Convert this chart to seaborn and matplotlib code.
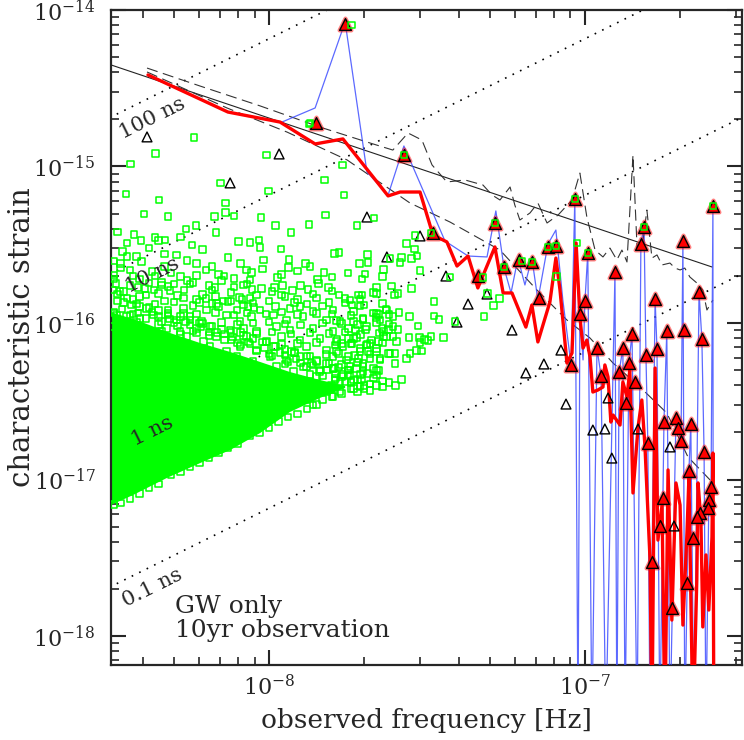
import numpy as np
import matplotlib
matplotlib.use("Agg")
import matplotlib.pyplot as plt
import matplotlib.ticker as ticker
import seaborn as sns

# ------------------------------------------------------------------
# values, stored as (log10 f [Hz], log10 h_c)
# ------------------------------------------------------------------

# timing residual reference lines (ns) and their labels
residuals_ns = [100, 10, 1, 0.1]
residual_labels = ["100 ns", "10 ns", "1 ns", "0.1 ns"]
res_norm = 6.55   # h_c = res_norm * f * residual

# power law sensitivity line (solid)
sens_logf = [-8.5, -6.598]
sens_logh = [-14.351, -15.642]

# upper dashed curve
dash_up = [(-8.386, -14.371), (-8.218, -14.486), (-8.028, -14.613), (-7.839, -14.748),
           (-7.680, -14.850), (-7.608, -14.895), (-7.560, -14.786), (-7.516, -14.831),
           (-7.484, -14.990), (-7.437, -15.099), (-7.380, -15.086), (-7.323, -15.118),
           (-7.294, -15.182), (-7.269, -15.214), (-7.237, -15.131), (-7.222, -15.246),
           (-7.206, -15.342), (-7.174, -15.297), (-7.149, -15.233), (-7.120, -15.361),
           (-7.085, -15.310), (-7.041, -15.214), (-7.016, -15.042), (-6.994, -15.323),
           (-6.968, -15.534), (-6.943, -15.578), (-6.921, -15.521), (-6.899, -15.597),
           (-6.883, -15.534), (-6.867, -15.610), (-6.848, -14.927), (-6.835, -15.521),
           (-6.820, -15.534), (-6.804, -15.278), (-6.788, -15.585), (-6.772, -15.565),
           (-6.756, -15.629), (-6.731, -15.617), (-6.715, -15.649), (-6.699, -15.661),
           (-6.684, -15.649), (-6.668, -15.706), (-6.646, -15.744), (-6.627, -15.789),
           (-6.614, -15.917), (-6.595, -15.853)]

# lower dashed curve
dash_low = [(-8.386, -14.396), (-8.133, -14.626), (-7.943, -14.780), (-7.753, -14.958),
            (-7.554, -15.233), (-7.427, -15.355), (-7.269, -15.534), (-7.152, -15.789),
            (-7.057, -15.981), (-6.984, -16.096), (-6.911, -16.256), (-6.826, -16.409),
            (-6.741, -16.575), (-6.674, -16.856), (-6.604, -17.003)]

# red thick curve (-18.6 = drops below the plot)
red_curve = [(-8.383, -14.415), (-8.130, -14.652), (-7.965, -14.716), (-7.854, -14.856),
             (-7.766, -14.824), (-7.623, -15.188), (-7.585, -15.163), (-7.522, -15.163),
             (-7.481, -15.438), (-7.437, -15.482), (-7.405, -15.636), (-7.370, -15.572),
             (-7.339, -15.776), (-7.285, -15.514), (-7.259, -15.808), (-7.231, -15.808),
             (-7.187, -16.026), (-7.168, -15.885), (-7.149, -16.121), (-7.111, -15.866),
             (-7.092, -15.585), (-7.079, -15.789), (-7.057, -16.256), (-7.041, -16.192),
             (-7.028, -15.489), (-7.016, -15.962), (-7.006, -16.160), (-6.994, -16.109),
             (-6.984, -16.217), (-6.975, -16.441), (-6.959, -16.428), (-6.943, -16.409),
             (-6.937, -16.268), (-6.927, -16.345), (-6.918, -16.633), (-6.911, -16.588),
             (-6.889, -16.652), (-6.880, -16.377), (-6.867, -16.473), (-6.858, -16.300),
             (-6.848, -17.086), (-6.832, -16.665), (-6.820, -16.492), (-6.810, -16.792),
             (-6.794, -17.514), (-6.788, -18.6), (-6.778, -16.288), (-6.769, -17.387),
             (-6.756, -17.163), (-6.747, -18.6), (-6.737, -16.939), (-6.725, -17.898),
             (-6.712, -17.022), (-6.699, -17.163), (-6.690, -17.930), (-6.677, -17.335),
             (-6.671, -16.990), (-6.658, -18.6), (-6.646, -17.642), (-6.642, -17.022),
             (-6.633, -17.259), (-6.627, -17.942), (-6.617, -17.482), (-6.608, -17.834),
             (-6.598, -17.367), (-6.595, -16.831), (-6.592, -18.6)]

# thin blue curve
blue_curve = [(-7.959, -14.716), (-7.854, -14.626), (-7.759, -14.077), (-7.690, -15.035),
              (-7.623, -15.182), (-7.573, -14.869), (-7.443, -15.476), (-7.370, -15.572),
              (-7.310, -15.578), (-7.282, -15.284), (-7.256, -15.649), (-7.234, -15.808),
              (-7.212, -15.585), (-7.190, -15.757), (-7.168, -15.585), (-7.149, -15.853),
              (-7.117, -15.495), (-7.092, -15.406), (-7.070, -15.853), (-7.044, -16.268),
              (-7.032, -15.195), (-7.022, -18.6), (-7.016, -15.942), (-7.006, -16.236),
              (-7.000, -15.859), (-6.991, -15.553), (-6.978, -18.6), (-6.962, -16.160),
              (-6.949, -16.339), (-6.934, -18.6), (-6.905, -15.674), (-6.899, -18.6),
              (-6.892, -16.313), (-6.880, -16.160), (-6.873, -18.6), (-6.861, -16.256),
              (-6.851, -16.070), (-6.835, -18.6), (-6.823, -15.495), (-6.813, -15.387),
              (-6.807, -16.204), (-6.801, -16.767), (-6.794, -18.6), (-6.778, -15.847),
              (-6.772, -16.166), (-6.763, -18.6), (-6.750, -16.633), (-6.741, -16.051),
              (-6.731, -18.6), (-6.712, -16.607), (-6.706, -16.671), (-6.696, -16.754),
              (-6.690, -15.476), (-6.684, -18.6), (-6.671, -16.946), (-6.665, -16.645),
              (-6.655, -18.6), (-6.639, -15.802), (-6.630, -16.102), (-6.623, -16.824),
              (-6.617, -18.6), (-6.608, -17.131), (-6.601, -17.048), (-6.595, -15.252),
              (-6.594, -18.6)]

# resolvable sources (red triangles)
red_tri = [(-7.851, -14.722), (-7.759, -14.089), (-7.573, -14.927), (-7.481, -15.425),
           (-7.339, -15.700), (-7.285, -15.361), (-7.256, -15.642), (-7.209, -15.597),
           (-7.168, -15.610), (-7.146, -15.840), (-7.117, -15.514), (-7.092, -15.508),
           (-7.032, -15.208), (-6.991, -15.553), (-7.000, -15.859), (-7.016, -15.942),
           (-6.905, -15.674), (-6.813, -15.387), (-6.823, -15.495), (-6.690, -15.476),
           (-6.595, -15.252), (-6.778, -15.847), (-6.639, -15.802), (-6.851, -16.070),
           (-6.741, -16.051), (-6.687, -16.045), (-6.630, -16.102), (-6.962, -16.160),
           (-6.880, -16.160), (-6.807, -16.204), (-6.772, -16.166), (-7.044, -16.268),
           (-6.949, -16.339), (-6.892, -16.313), (-6.861, -16.256), (-6.842, -16.377),
           (-6.870, -16.511), (-6.750, -16.633), (-6.712, -16.607), (-6.706, -16.671),
           (-6.665, -16.645), (-6.801, -16.767), (-6.696, -16.754), (-6.623, -16.824),
           (-6.671, -16.946), (-6.601, -17.048), (-6.608, -17.131), (-6.611, -17.182),
           (-6.753, -17.118), (-6.636, -17.214), (-6.646, -17.240), (-6.763, -17.297),
           (-6.658, -17.374), (-6.788, -17.527), (-6.677, -17.661), (-6.725, -17.821)]

# other sources (open triangles)
open_tri = [(-8.386, -14.811), (-8.123, -15.105), (-7.968, -14.920), (-7.690, -15.323),
            (-7.522, -15.444), (-7.627, -15.578), (-7.440, -15.700), (-7.310, -15.815),
            (-7.370, -15.879), (-7.405, -15.994), (-7.231, -16.045), (-7.076, -16.173),
            (-7.130, -16.262), (-7.187, -16.319), (-7.060, -16.518), (-6.975, -16.684),
            (-6.937, -16.677), (-6.927, -16.479), (-6.915, -16.863), (-6.832, -16.677),
            (-6.731, -16.792), (-6.718, -17.297)]

# GW-only binaries (green squares): sparse upper part
green_upper = [(-8.237, -14.814), (-8.359, -14.916), (-8.438, -14.984), (-8.008, -14.926),
               (-8.154, -15.107), (-8.453, -15.176), (-8.348, -15.214), (-8.001, -15.156),
               (-7.873, -14.728), (-7.768, -14.990), (-7.825, -15.086), (-7.762, -15.182),
               (-8.137, -15.232), (-8.137, -15.295), (-8.173, -15.321), (-8.110, -15.315),
               (-8.026, -15.327), (-7.980, -15.376), (-7.873, -15.370), (-7.821, -15.310),
               (-7.722, -15.378), (-7.667, -15.329), (-7.739, -14.096), (-7.565, -15.491),
               (-7.538, -15.440), (-7.540, -15.527), (-7.870, -14.722)]

# squares among / inside the triangles
green_right = [(-7.531, -15.572), (-7.549, -15.587), (-7.580, -15.581), (-7.586, -15.615),
               (-7.617, -15.587), (-7.638, -15.657), (-7.641, -15.704), (-7.522, -15.664),
               (-7.612, -15.764), (-7.549, -15.779), (-7.591, -15.811), (-7.602, -15.821),
               (-7.630, -15.913), (-7.589, -15.932), (-7.556, -15.960), (-7.477, -15.864),
               (-7.478, -15.955), (-7.462, -15.977), (-7.528, -16.019), (-7.412, -15.992),
               (-7.322, -15.708), (-7.309, -15.811), (-7.290, -15.889), (-7.271, -15.843),
               (-7.319, -15.960), (-7.090, -15.704), (-7.573, -14.927), (-7.487, -15.425),
               (-7.285, -15.361), (-7.256, -15.642), (-7.199, -15.604), (-7.168, -15.610),
               (-7.117, -15.514), (-7.092, -15.508), (-7.032, -15.208), (-6.991, -15.553),
               (-6.813, -15.387), (-6.595, -15.252), (-7.025, -15.489), (-7.427, -15.706)]

green_mid = [(-7.689, -15.561), (-7.686, -15.614), (-7.779, -15.551), (-7.793, -15.555),
             (-7.696, -15.687), (-7.705, -15.719), (-7.670, -15.804), (-7.659, -15.772),
             (-7.705, -15.821), (-7.712, -15.847), (-7.744, -15.853), (-7.779, -15.821),
             (-7.738, -15.885), (-7.712, -15.891), (-7.654, -15.945), (-7.662, -15.964),
             (-7.702, -15.977), (-7.733, -15.991), (-7.786, -15.985), (-7.726, -16.045),
             (-7.694, -16.040), (-7.643, -16.034), (-7.622, -16.040), (-7.591, -16.040),
             (-7.557, -16.092), (-7.524, -16.092), (-7.508, -16.104), (-7.487, -16.087),
             (-7.448, -16.092), (-7.496, -16.113), (-7.522, -16.126), (-7.607, -16.087),
             (-7.638, -16.087), (-7.675, -16.109), (-7.654, -16.119), (-7.723, -16.092),
             (-7.749, -16.098), (-7.784, -16.104), (-7.770, -16.130), (-7.738, -16.130),
             (-7.691, -16.141), (-7.712, -16.162), (-7.686, -16.183), (-7.659, -16.183),
             (-7.622, -16.194), (-7.601, -16.194), (-7.554, -16.194), (-7.533, -16.177),
             (-7.517, -16.179), (-7.564, -16.226), (-7.601, -16.258), (-7.649, -16.236),
             (-7.680, -16.226), (-7.717, -16.226), (-7.749, -16.215), (-7.786, -16.183),
             (-7.702, -16.279), (-7.670, -16.290), (-7.654, -16.305), (-7.659, -16.332),
             (-7.686, -16.322), (-7.723, -16.290), (-7.749, -16.300), (-7.744, -16.332),
             (-7.770, -16.343), (-7.760, -16.375), (-7.796, -16.290), (-7.791, -16.364),
             (-7.802, -16.396), (-7.775, -16.439), (-7.733, -16.417), (-7.707, -16.364)]

green_left = [(-8.395, -15.303), (-8.319, -15.320), (-8.231, -15.378), (-8.263, -15.399),
              (-8.168, -15.423), (-8.427, -15.433), (-8.361, -15.453), (-8.405, -15.474),
              (-8.349, -15.474), (-8.329, -15.470), (-8.097, -15.480), (-8.060, -15.485),
              (-8.031, -15.470), (-7.931, -15.423), (-8.029, -15.519), (-7.962, -15.527),
              (-8.243, -15.502), (-8.463, -15.544), (-8.419, -15.576), (-8.449, -15.576),
              (-8.292, -15.565), (-8.018, -15.597), (-7.937, -15.593), (-7.884, -15.619),
              (-8.229, -15.619), (-8.491, -15.604), (-8.403, -15.608), (-7.714, -15.619),
              (-8.071, -15.661), (-8.055, -15.676), (-7.939, -15.646), (-7.826, -15.678),
              (-8.143, -15.700), (-8.229, -15.697), (-8.280, -15.704), (-8.060, -15.725),
              (-7.973, -15.710), (-7.847, -15.721), (-7.844, -15.746), (-8.490, -15.693),
              (-8.493, -15.789), (-8.484, -15.746), (-8.472, -15.800), (-8.414, -15.772),
              (-8.393, -15.778), (-8.340, -15.757), (-8.313, -15.793), (-8.364, -15.789),
              (-8.269, -15.789), (-8.171, -15.772), (-8.053, -15.785), (-8.023, -15.778),
              (-7.983, -15.772), (-7.957, -15.761), (-7.925, -15.793), (-7.876, -15.785),
              (-7.812, -15.774), (-7.717, -15.821), (-7.659, -15.810), (-8.094, -15.836),
              (-8.085, -15.849), (-8.048, -15.902), (-8.229, -15.849), (-8.200, -15.842),
              (-8.145, -15.859), (-8.166, -15.874),
              (-8.470, -15.650), (-8.430, -15.700), (-8.370, -15.672), (-8.330, -15.640),
              (-8.260, -15.728), (-8.200, -15.660), (-8.160, -15.690), (-8.110, -15.715),
              (-8.020, -15.655), (-7.960, -15.690), (-7.910, -15.668), (-7.870, -15.640),
              (-7.800, -15.705), (-7.750, -15.680),
              (-8.480, -15.815), (-8.440, -15.760), (-8.410, -15.832), (-8.380, -15.745),
              (-8.350, -15.810), (-8.320, -15.768), (-8.290, -15.825), (-8.250, -15.750),
              (-8.210, -15.818), (-8.180, -15.790), (-8.120, -15.805), (-8.080, -15.757),
              (-8.040, -15.822), (-7.990, -15.800), (-7.950, -15.830), (-7.900, -15.760),
              (-7.860, -15.815), (-7.800, -15.795), (-7.760, -15.845),
              (-8.48, -15.42), (-8.45, -15.49), (-8.38, -15.52), (-8.33, -15.56),
              (-8.28, -15.45), (-8.26, -15.60), (-8.21, -15.53), (-8.18, -15.64),
              (-8.13, -15.58), (-8.09, -15.62), (-8.47, -15.62), (-8.44, -15.66),
              (-8.41, -15.72), (-8.36, -15.70), (-8.31, -15.68), (-8.34, -15.74),
              (-8.30, -15.75), (-8.24, -15.74), (-8.19, -15.76), (-8.15, -15.73),
              (-8.11, -15.77), (-8.07, -15.75), (-8.49, -15.72), (-8.46, -15.80),
              (-8.43, -15.85), (-8.39, -15.82), (-8.33, -15.86), (-8.27, -15.84),
              (-8.22, -15.87), (-8.17, -15.83), (-8.12, -15.86), (-8.06, -15.84),
              (-8.00, -15.86), (-7.96, -15.82), (-7.91, -15.85), (-7.85, -15.84),
              (-7.81, -15.87)]

# denser band just above the saturated core
green_dense = [(-8.435, -15.885), (-8.387, -15.906), (-8.319, -15.917), (-8.271, -15.906),
               (-8.197, -15.917), (-8.160, -15.896), (-8.102, -15.917), (-8.066, -15.896),
               (-8.029, -15.917), (-7.934, -15.906), (-7.902, -15.896), (-7.860, -15.928),
               (-7.797, -15.917), (-7.733, -15.928), (-7.659, -15.938), (-7.628, -15.917),
               (-8.482, -15.949), (-8.408, -15.970), (-8.350, -15.960), (-8.292, -15.981),
               (-8.250, -15.960), (-8.213, -15.991), (-8.134, -15.949), (-8.092, -15.991),
               (-8.055, -15.960), (-7.986, -15.949), (-7.944, -15.981), (-7.892, -15.960),
               (-7.818, -15.981), (-7.775, -15.991), (-7.702, -15.970), (-7.649, -15.981),
               (-7.607, -15.960), (-8.451, -15.960), (-8.493, -16.023), (-8.440, -16.023),
               (-8.398, -16.045), (-8.324, -16.034), (-8.282, -16.055), (-8.229, -16.034),
               (-8.187, -16.023), (-8.124, -16.045), (-8.081, -16.034), (-8.039, -16.055),
               (-7.976, -16.023), (-7.934, -16.045), (-7.860, -16.034), (-7.797, -16.055),
               (-7.749, -16.034), (-7.691, -16.023), (-7.638, -16.055), (-7.607, -16.023),
               (-8.472, -16.087), (-8.377, -16.098), (-8.308, -16.109), (-8.261, -16.087),
               (-8.208, -16.119), (-8.166, -16.087), (-8.118, -16.109), (-8.071, -16.087),
               (-8.008, -16.119), (-7.960, -16.087), (-7.902, -16.109), (-7.839, -16.098),
               (-7.786, -16.119), (-7.733, -16.098), (-7.680, -16.130), (-7.628, -16.087),
               (-7.596, -16.119), (-8.461, -16.151), (-8.356, -16.162), (-8.240, -16.172),
               (-8.187, -16.151), (-8.134, -16.183), (-8.092, -16.151), (-8.039, -16.172),
               (-7.986, -16.151), (-7.928, -16.183), (-7.881, -16.151), (-7.818, -16.172),
               (-7.765, -16.151), (-7.712, -16.183), (-7.659, -16.162), (-7.617, -16.194),
               (-8.219, -16.215), (-8.155, -16.236), (-8.102, -16.215), (-8.050, -16.247),
               (-7.997, -16.215), (-7.944, -16.236), (-7.902, -16.215), (-7.849, -16.247),
               (-7.797, -16.215), (-7.754, -16.236), (-7.702, -16.258), (-7.649, -16.226),
               (-8.092, -16.279), (-8.029, -16.300), (-7.976, -16.279), (-7.923, -16.311),
               (-7.881, -16.279), (-7.839, -16.300), (-7.797, -16.290), (-7.744, -16.279),
               (-7.702, -16.311), (-7.659, -16.300), (-7.944, -16.343), (-7.891, -16.375),
               (-7.849, -16.343), (-7.807, -16.407), (-7.775, -16.375), (-7.733, -16.364),
               (-7.712, -16.407), (-7.913, -16.460), (-7.881, -16.492), (-7.860, -16.524),
               (-7.818, -16.439), (-7.797, -16.471)]

green_band = [(-8.46, -15.870), (-8.41, -15.893), (-8.36, -15.880), (-8.30, -15.866),
              (-8.24, -15.888), (-8.18, -15.875), (-8.13, -15.862), (-8.08, -15.884),
              (-8.05, -15.871), (-7.98, -15.893), (-7.92, -15.868), (-7.88, -15.880),
              (-7.83, -15.890), (-7.76, -15.872), (-7.70, -15.885), (-7.64, -15.875),
              (-8.49, -15.935), (-8.43, -15.942), (-8.37, -15.930), (-8.32, -15.948),
              (-8.27, -15.938), (-8.23, -15.944), (-8.17, -15.932), (-8.11, -15.950),
              (-8.07, -15.936), (-8.01, -15.941), (-7.96, -15.930), (-7.91, -15.947),
              (-7.85, -15.938), (-7.80, -15.944), (-7.74, -15.952), (-7.67, -15.936),
              (-7.62, -15.945), (-8.46, -16.000), (-8.42, -15.995), (-8.35, -16.008),
              (-8.30, -15.998), (-8.25, -16.012), (-8.21, -16.003), (-8.15, -15.996),
              (-8.10, -16.010), (-8.05, -16.001), (-8.00, -15.994), (-7.95, -16.006),
              (-7.90, -16.012), (-7.83, -15.999), (-7.77, -16.004), (-7.72, -16.010),
              (-7.66, -15.997), (-7.62, -16.005), (-8.45, -16.060), (-8.40, -16.068),
              (-8.34, -16.055), (-8.28, -16.072), (-8.23, -16.063), (-8.19, -16.058),
              (-8.14, -16.070), (-8.09, -16.061), (-8.04, -16.066), (-7.99, -16.057),
              (-7.93, -16.071), (-7.87, -16.062), (-7.81, -16.067), (-7.76, -16.059),
              (-7.71, -16.073), (-7.65, -16.064), (-8.10, -16.128), (-8.06, -16.135),
              (-8.01, -16.122), (-7.96, -16.138), (-7.91, -16.130), (-7.85, -16.125),
              (-7.79, -16.140), (-7.74, -16.131), (-7.69, -16.136), (-7.64, -16.127),
              (-8.00, -16.198), (-7.95, -16.205), (-7.92, -16.192), (-7.87, -16.210),
              (-7.82, -16.200), (-7.78, -16.195), (-7.73, -16.207), (-7.68, -16.199),
              (-7.95, -16.262), (-7.90, -16.255), (-7.86, -16.268), (-7.82, -16.258),
              (-7.77, -16.264), (-7.72, -16.251), (-7.87, -16.330), (-7.83, -16.338),
              (-7.79, -16.326), (-7.75, -16.335)]

# squares hugging the upper edge of the saturated core
green_rim = [(-8.49, -15.93), (-8.465, -15.91), (-8.44, -15.95), (-8.415, -15.935),
             (-8.39, -15.97), (-8.365, -15.95), (-8.34, -15.99), (-8.315, -15.975),
             (-8.29, -16.02), (-8.265, -15.995), (-8.24, -16.05), (-8.215, -16.025),
             (-8.19, -16.08), (-8.165, -16.06), (-8.14, -16.11), (-8.115, -16.09),
             (-8.09, -16.14), (-8.065, -16.12), (-8.04, -16.18), (-8.015, -16.16),
             (-7.99, -16.21), (-7.965, -16.19), (-7.94, -16.25), (-7.915, -16.23),
             (-7.89, -16.28), (-7.865, -16.26), (-7.84, -16.31), (-7.815, -16.30),
             (-7.79, -16.35), (-7.765, -16.33), (-7.74, -16.38), (-7.72, -16.36),
             (-7.70, -16.40), (-7.68, -16.39),
             (-8.48, -15.86), (-8.45, -15.84), (-8.42, -15.88), (-8.38, -15.90),
             (-8.35, -15.92), (-8.32, -15.94), (-8.28, -15.96), (-8.25, -15.98),
             (-8.22, -16.00), (-8.18, -16.02), (-8.15, -16.04), (-8.12, -16.06),
             (-8.08, -16.08), (-8.05, -16.10), (-8.02, -16.12), (-7.98, -16.15),
             (-7.95, -16.17), (-7.92, -16.19), (-7.88, -16.21), (-7.85, -16.24),
             (-7.81, -16.26), (-7.78, -16.28), (-7.75, -16.30), (-7.71, -16.33),
             (-7.67, -16.35), (-7.64, -16.37),
             (-7.74, -16.42), (-7.72, -16.44), (-7.70, -16.42), (-7.68, -16.43),
             (-7.66, -16.40), (-7.64, -16.41), (-7.62, -16.38), (-7.60, -16.40),
             (-7.58, -16.36)]

# squares along the lower edge of the cloud
green_edge = [(-8.49, -17.16), (-8.44, -17.12), (-8.38, -17.05), (-8.31, -16.97),
              (-8.25, -16.92), (-8.19, -16.86), (-8.13, -16.80), (-8.06, -16.72),
              (-8.00, -16.67), (-7.94, -16.60), (-7.88, -16.55), (-7.83, -16.49),
              (-8.47, -17.15), (-8.41, -17.09), (-8.35, -17.03), (-8.28, -16.95),
              (-8.22, -16.89), (-8.16, -16.83), (-8.10, -16.77), (-8.03, -16.70),
              (-7.97, -16.63), (-7.91, -16.58), (-7.85, -16.52), (-7.80, -16.47),
              (-7.77, -16.45)]

# outline of the saturated part of the green cloud
core_logf = [-8.5, -8.408, -8.313, -8.218, -8.123, -8.028, -7.934, -7.839, -7.759,
             -7.759, -7.839, -7.934, -8.028, -8.123, -8.218, -8.323, -8.430, -8.5]
core_logh = [-15.93, -15.99, -16.064, -16.128, -16.185, -16.249, -16.313, -16.364, -16.403,
             -16.415, -16.479, -16.569, -16.703, -16.812, -16.895, -16.990, -17.099, -17.163]

# tick positions
x_major = [1e-8, 1e-7]
y_major = [1e-18, 1e-17, 1e-16, 1e-15, 1e-14]


def unpack(pairs):
    arr = 10.0 ** np.array(pairs)
    return arr[:, 0], arr[:, 1]


# ------------------------------------------------------------------
sns.set_style("ticks")
plt.rcParams['font.family'] = ['DejaVu Serif']
plt.rcParams['mathtext.fontset'] = 'dejavuserif'

fig = plt.figure(figsize=(7.44, 7.40), dpi=100)
ax = fig.add_axes([0.1492, 0.1014, 0.8481, 0.8851])
ax.set_xscale('log')
ax.set_yscale('log')
ax.set_xlim(10 ** -8.5, 10 ** -6.503)
ax.set_ylim(10 ** -18.185, 1e-14)

# dotted timing-residual lines with labels
f_line = np.array([10 ** -8.6, 10 ** -6.4])
for r, lab in zip(residuals_ns, residual_labels):
    ax.plot(f_line, res_norm * r * 1e-9 * f_line, color='k', lw=1.2,
            ls=(0, (1, 4)), zorder=1)
    ax.text(10 ** -8.37, res_norm * r * 1e-9 * 10 ** -8.51, lab, rotation=26.3,
            ha='center', va='center', fontsize=15, zorder=10)

# green GW-only population
ax.fill(10.0 ** np.array(core_logf), 10.0 ** np.array(core_logh),
        color='lime', lw=0, zorder=2)
gf, gh = unpack(green_upper + green_right + green_mid + green_left
                + green_dense + green_band + green_rim + green_edge)
sns.scatterplot(x=gf, y=gh, marker='s', s=22, facecolor='none', edgecolor='lime',
                linewidth=1.1, zorder=6, ax=ax)

# sensitivity curves
ax.plot(10.0 ** np.array(sens_logf), 10.0 ** np.array(sens_logh),
        color='#222222', lw=0.8, zorder=2.5)
df, dh = unpack(dash_up)
ax.plot(df, dh, color='#333333', lw=0.8, dashes=(10, 5), zorder=2.5)
df, dh = unpack(dash_low)
ax.plot(df, dh, color='#333333', lw=0.8, dashes=(10, 5), zorder=2.5)

# blue and red curves
bf, bh = unpack(blue_curve)
sns.lineplot(x=bf, y=bh, sort=False, estimator=None, color='#3344ff', lw=0.9,
             alpha=0.8, zorder=3, ax=ax)
rf, rh = unpack(red_curve)
sns.lineplot(x=rf, y=rh, sort=False, estimator=None, color='red', lw=2.4,
             zorder=3.5, ax=ax)

# triangles
tf, th = unpack(red_tri)
sns.scatterplot(x=tf, y=th, marker='^', s=72, facecolor='red', edgecolor='red',
                linewidth=3, alpha=0.5, zorder=4.5, ax=ax)
sns.scatterplot(x=tf, y=th, marker='^', s=72, facecolor='red', edgecolor='black',
                linewidth=1.0, zorder=5, ax=ax)
of, oh = unpack(open_tri)
sns.scatterplot(x=of, y=oh, marker='^', s=50, facecolor='none', edgecolor='black',
                linewidth=1.0, zorder=5, ax=ax)

# annotation
ax.text(0.101, 0.079, "GW only", transform=ax.transAxes, fontsize=18, va='baseline')
ax.text(0.101, 0.043, "10yr observation", transform=ax.transAxes, fontsize=18,
        va='baseline')

# axes cosmetics
ax.xaxis.set_major_locator(ticker.FixedLocator(x_major))
ax.yaxis.set_major_locator(ticker.FixedLocator(y_major))
ax.xaxis.set_major_formatter(ticker.LogFormatterMathtext())
ax.yaxis.set_major_formatter(ticker.LogFormatterMathtext())
ax.xaxis.set_minor_formatter(ticker.NullFormatter())
ax.yaxis.set_minor_formatter(ticker.NullFormatter())
ax.tick_params(which='both', direction='in', top=True, right=True)
ax.tick_params(which='major', length=11, width=1.5, labelsize=16)
ax.tick_params(axis='x', which='major', pad=7)
ax.tick_params(axis='y', which='major', pad=11)
ax.tick_params(which='minor', length=6, width=1.2)
for s in ax.spines.values():
    s.set_linewidth(1.6)
ax.set_xlabel("observed frequency [Hz]", fontsize=19)
ax.set_ylabel("characteristic strain", fontsize=21)
ax.xaxis.set_label_coords(0.5, -0.066)
ax.yaxis.set_label_coords(-0.119, 0.5)

fig.savefig("out.png", dpi=100, facecolor='white')
